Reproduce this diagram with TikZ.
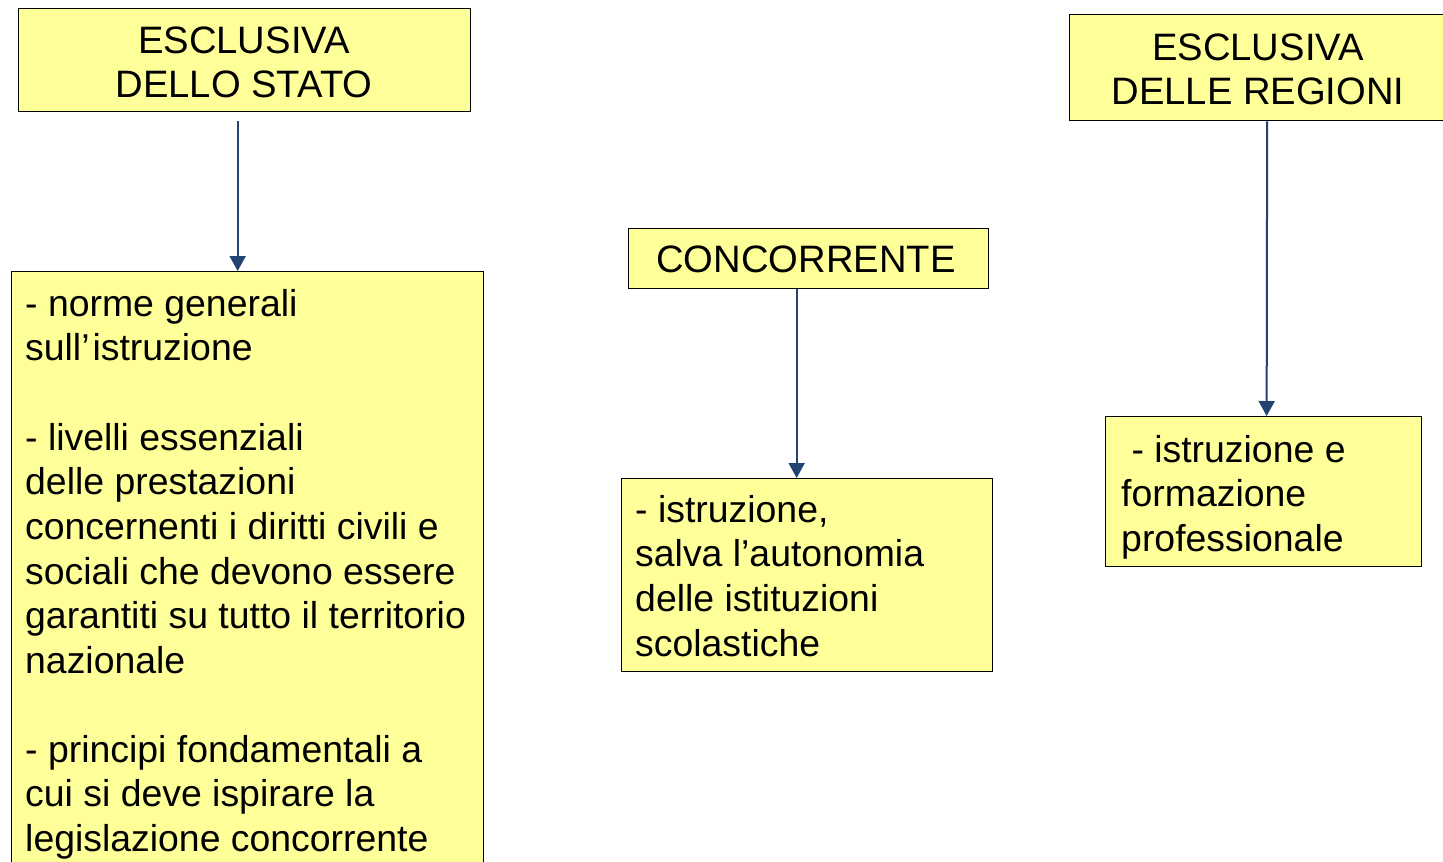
\documentclass[tikz,border=0pt]{standalone}
\usepackage{fontspec}
\setmainfont{Liberation Sans}
\usetikzlibrary{arrows.meta}
\definecolor{boxfill}{RGB}{255,255,153}
\definecolor{arrowblue}{RGB}{35,68,112}
\newcommand{\bodyfont}{\fontsize{37.4}{44.6}\selectfont}
\newcommand{\titlefont}{\fontsize{38.2}{44.6}\selectfont}
\tikzset{
  box/.style={draw=black, line width=1.3pt, fill=boxfill, rectangle, inner sep=0pt, anchor=north west},
  txt/.style={inner sep=0pt, font=\bodyfont, text=black},
  ttl/.style={inner sep=0pt, font=\titlefont, text=black},
  arr/.style={draw=arrowblue, line width=2pt, -{Triangle[length=15pt,width=16pt]}}
}
\begin{document}
\begin{tikzpicture}[x=1pt,y=-1pt]
\useasboundingbox (0,0) rectangle (1443,862);
\clip (0,0) rectangle (1443,862);
\fill[white] (0,0) rectangle (1443,862);

% boxes
\node[box, minimum width=452pt, minimum height=103pt] (stato) at (18,8) {};
\node[box, minimum width=472pt, minimum height=620pt] (statobody) at (11,271) {};
\node[box, minimum width=360pt, minimum height=60pt] (conc) at (628,228) {};
\node[box, minimum width=371pt, minimum height=193pt] (concbody) at (621,478) {};
\node[box, minimum width=381pt, minimum height=106pt] (reg) at (1069,14) {};
\node[box, minimum width=316pt, minimum height=150pt] (regbody) at (1105,416) {};

% texts
\node[ttl, anchor=north, align=center] (t1) at (244,21.8) {\strut ESCLUSIVA\\DELLO STATO};
\node[ttl, anchor=north, align=center] (t2) at (1258,28.8) {\strut ESCLUSIVA\\DELLE REGIONI};
\node[ttl, anchor=base] (t3) at (806,272) {CONCORRENTE};

\node[txt, anchor=north west, align=left] (p1) at (25,284.8) {\strut - norme generali\\sull’\hspace{3pt}istruzione};
\node[txt, anchor=north west, align=left] (p2) at (25,418.8) {\strut - livelli essenziali\\delle prestazioni\\concernenti i diritti civili e\\sociali che devono essere\\garantiti su tutto il territorio\\nazionale};
\node[txt, anchor=north west, align=left] (p3) at (25,730.8) {\strut - principi fondamentali a\\cui si deve ispirare la\\legislazione concorrente};

\node[txt, anchor=north west, align=left] (p4) at (635,490.8) {\strut - istruzione,\\salva l’autonomia\\delle istituzioni\\scolastiche};
\node[txt, anchor=north west, align=left] (p5) at (1121,430.8) {\strut\hspace{10.3pt}- istruzione e\\formazione\\professionale};

% connectors
\draw[arr] ([xshift=-7pt,yshift=-9pt]stato.south) -- ([xshift=-10pt]statobody.north);
\draw[arr] ([xshift=-12pt]conc.south) -- ([xshift=-10.5pt]concbody.north);
\draw[arr] ([xshift=7pt]reg.south) -- ([xshift=3pt]regbody.north);
\end{tikzpicture}
\end{document}
